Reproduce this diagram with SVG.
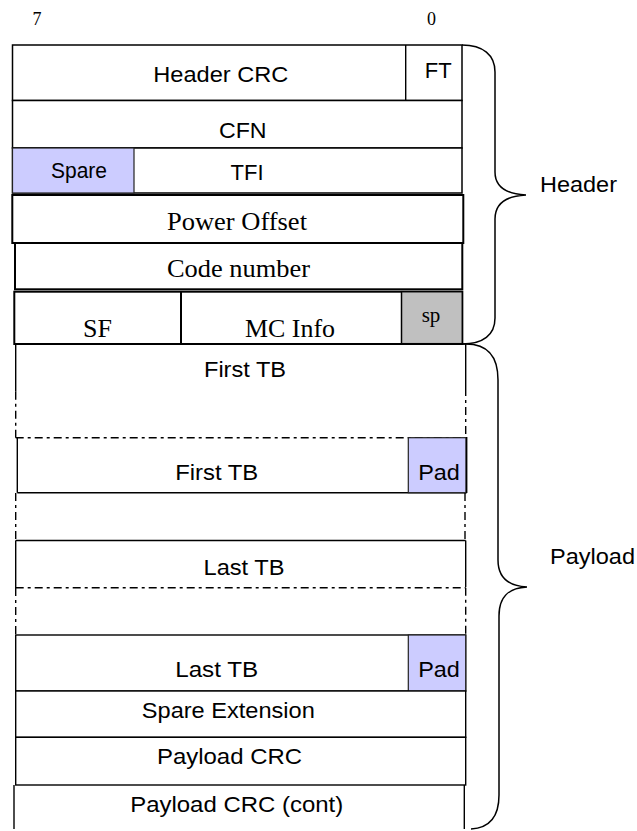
<svg xmlns="http://www.w3.org/2000/svg" width="637" height="831" viewBox="0 0 637 831">
<style>
.bg{fill:#ffffff}
.box{fill:#ffffff;stroke:#000;stroke-width:1.5}
.thick{fill:#ffffff;stroke:#000;stroke-width:2}
.lav{fill:#ccccff;stroke:#222;stroke-width:1.2}
.gray{fill:#c0c0c0;stroke:#000;stroke-width:1.5}
.ln{stroke:#000;stroke-width:1.4;fill:none}
.dd{stroke:#000;stroke-width:1.4;fill:none;stroke-dasharray:8,4,3,4}
.brace{stroke:#000;stroke-width:1.5;fill:none}
.s{font-family:"Liberation Sans",Arial,sans-serif;font-size:22px;fill:#000;text-anchor:middle}
.t{font-family:"Liberation Serif","Times New Roman",serif;font-size:26px;fill:#000;text-anchor:middle}
.n{font-family:"Liberation Serif","Times New Roman",serif;font-size:18px;fill:#000;text-anchor:middle}
</style>
<rect class="bg" x="0" y="0" width="637" height="831"/>

<g id="bit-labels">
<text class="n" x="37" y="25">7</text>
<text class="n" x="431.5" y="25">0</text>
</g>

<g id="header-crc">
<rect class="box" x="12.5" y="45" width="449.5" height="55.5"/>
<line class="ln" x1="405.7" y1="45" x2="405.7" y2="100.5"/>
<text class="s" x="220.8" y="82.3" textLength="135" lengthAdjust="spacingAndGlyphs">Header CRC</text>
<text class="s" x="438.3" y="78.3">FT</text>
</g>

<g id="cfn">
<rect class="box" x="12.5" y="100.5" width="449.5" height="47.5"/>
<text class="s" x="242.8" y="138.3" textLength="47.7" lengthAdjust="spacingAndGlyphs">CFN</text>
</g>

<g id="tfi">
<rect class="box" x="12.5" y="148" width="449.5" height="45"/>
<rect class="lav" x="12.5" y="148" width="121.5" height="45"/>
<text class="s" x="79" y="178.3" textLength="56" lengthAdjust="spacingAndGlyphs">Spare</text>
<text class="s" x="247" y="180">TFI</text>
</g>

<g id="power-offset">
<rect class="thick" x="12.3" y="195" width="451" height="48"/>
<text class="t" x="237" y="230" textLength="140" lengthAdjust="spacingAndGlyphs">Power Offset</text>
</g>

<g id="code-number">
<rect class="thick" x="15" y="243" width="447.3" height="46.3"/>
<text class="t" x="238.5" y="276.7" textLength="143" lengthAdjust="spacingAndGlyphs">Code number</text>
</g>

<g id="sf-mc">
<rect class="thick" x="14.3" y="291.7" width="448" height="52.3"/>
<line class="ln" x1="181" y1="291.7" x2="181" y2="344" style="stroke-width:2"/>
<rect class="gray" x="401.5" y="291.7" width="60.8" height="52"/>
<text class="t" x="97.5" y="336.7">SF</text>
<text class="t" x="290" y="336.7" textLength="90" lengthAdjust="spacingAndGlyphs">MC Info</text>
<text class="t" x="431" y="321.7" style="font-size:21px">sp</text>
</g>

<g id="first-tb-1">
<line class="ln" x1="15.7" y1="344" x2="465.7" y2="344"/>
<line class="ln" x1="15.7" y1="344" x2="15.7" y2="391.7"/>
<line class="ln" x1="465.7" y1="344" x2="465.7" y2="388"/>
<line class="dd" x1="15.7" y1="391.7" x2="15.7" y2="437.7"/>
<line class="dd" x1="465.7" y1="388" x2="465.7" y2="437.7"/>
<text class="s" x="245" y="377.3" textLength="82" lengthAdjust="spacingAndGlyphs">First TB</text>
</g>

<g id="first-tb-2">
<line class="dd" x1="15.7" y1="437.7" x2="465.7" y2="437.7"/>
<line class="ln" x1="17.3" y1="437.7" x2="17.3" y2="492.7"/>
<line class="ln" x1="17.3" y1="492.7" x2="466.5" y2="492.7"/>
<rect class="lav" x="408.3" y="437.7" width="57.6" height="55"/>
<line class="ln" x1="466.7" y1="437" x2="466.7" y2="493"/>
<text class="s" x="216.7" y="480" textLength="83" lengthAdjust="spacingAndGlyphs">First TB</text>
<text class="s" x="439" y="480" textLength="41.7" lengthAdjust="spacingAndGlyphs">Pad</text>
<line class="dd" x1="15.7" y1="493" x2="15.7" y2="540"/>
<line class="dd" x1="465" y1="493" x2="465" y2="540"/>
</g>

<g id="last-tb-1">
<line class="ln" x1="15.7" y1="540.5" x2="465.7" y2="540.5"/>
<line class="ln" x1="15.7" y1="540.5" x2="15.7" y2="588"/>
<line class="ln" x1="465.7" y1="540.5" x2="465.7" y2="587"/>
<line class="dd" x1="15.7" y1="587.7" x2="465.7" y2="587.7"/>
<line class="dd" x1="15.7" y1="588" x2="15.7" y2="635"/>
<line class="dd" x1="465.7" y1="587.7" x2="465.7" y2="635"/>
<text class="s" x="244" y="575" textLength="81" lengthAdjust="spacingAndGlyphs">Last TB</text>
</g>

<g id="last-tb-2">
<rect class="box" x="15.7" y="635" width="450" height="56" style="stroke-width:1.4"/>
<rect class="lav" x="408.3" y="635" width="57.4" height="56"/>
<text class="s" x="216.7" y="676.7" textLength="83" lengthAdjust="spacingAndGlyphs">Last TB</text>
<text class="s" x="439" y="676.7" textLength="41.7" lengthAdjust="spacingAndGlyphs">Pad</text>
</g>

<g id="spare-extension">
<rect class="box" x="15.7" y="691" width="450" height="46.3" style="stroke-width:1.4"/>
<text class="s" x="228.3" y="718.3" textLength="173" lengthAdjust="spacingAndGlyphs">Spare Extension</text>
</g>

<g id="payload-crc">
<rect class="box" x="15.7" y="737.3" width="450" height="47.7" style="stroke-width:1.4"/>
<text class="s" x="229.5" y="764" textLength="145" lengthAdjust="spacingAndGlyphs">Payload CRC</text>
</g>

<g id="payload-crc-cont">
<line class="ln" x1="14" y1="785" x2="14" y2="829"/>
<line class="ln" x1="464.3" y1="785" x2="464.3" y2="829"/>
<text class="s" x="236.7" y="811.7" textLength="213" lengthAdjust="spacingAndGlyphs">Payload CRC (cont)</text>
</g>

<g id="connectors">
<path class="brace" d="M462,45 C483,45 495,55 495,72 L495,172 C495,187 506,194 526,195 C506,196 495,204 495,219 L495,318 C495,335 483,344 462,344"/>
<path class="brace" d="M466,344 C487,344 498,356 498,380 L498,560 C498,578 508,586 527,587 C508,588 499,597 499,616 L499,795 C499,817 489,828 471,829"/>
</g>

<g id="brace-labels">
<text class="s" x="578.5" y="192" textLength="77" lengthAdjust="spacingAndGlyphs">Header</text>
<text class="s" x="592.5" y="564" textLength="85" lengthAdjust="spacingAndGlyphs">Payload</text>
</g>
</svg>
